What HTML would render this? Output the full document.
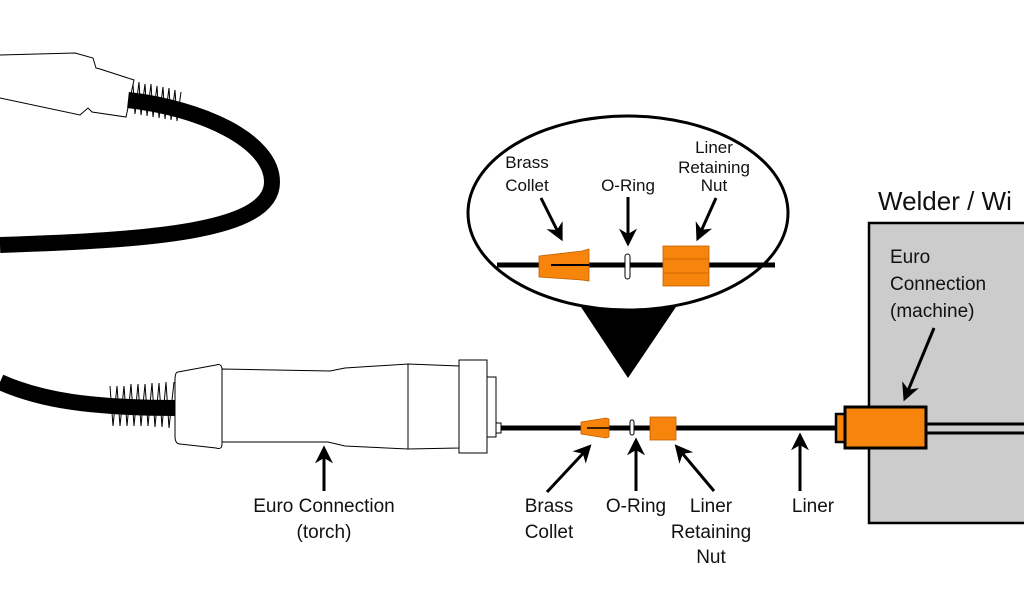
<!DOCTYPE html>
<html><head><style>html,body{margin:0;padding:0;background:#fff}svg{display:block}text{font-family:"Liberation Sans",sans-serif;fill:#111}</style></head><body>
<svg width="1024" height="600" viewBox="0 0 1024 600" xmlns="http://www.w3.org/2000/svg">
<defs>
<marker id="a" viewBox="0 0 10 10" refX="8" refY="5" markerWidth="6" markerHeight="6" orient="auto"><path d="M0,0 L10,5 L0,10 L3,5Z" fill="#000"/></marker></defs>
<!-- top handle -->
<path d="M0,55 L75,53 L93,58 L96,68 L100,69 L134,80 L126,117 L92,112 L88,108 L80,115 L0,98" fill="#fff" stroke="#000" stroke-width="1"/>
<path d="M128,100 C200,108 272,140 272,182 C272,232 150,240 0,245" fill="none" stroke="#000" stroke-width="16"/>
<path d="M133,84 L135,114 L139,82 L141,115 L145,84 L147,116 L151,84 L153,117 L157,86 L159,118 L163,87 L165,119 L169,88 L171,120 L175,90 L177,121 L181,92" fill="none" stroke="#000" stroke-width="1"/>
<!-- bottom cable -->
<path d="M0,382 C40,400 90,408 178,408" fill="none" stroke="#000" stroke-width="16"/>
<path d="M110,386 L113,426 L117,386 L120,426 L124,386 L127,426 L131,384 L134,426 L138,384 L141,426 L145,384 L148,426 L152,383 L155,427 L159,383 L162,427 L166,382 L169,428 L174,382" fill="none" stroke="#000" stroke-width="1"/>
<!-- torch body -->
<path d="M178,372 Q175,372 175,380 L175,436 Q175,444 180,444 L216,448 Q222,450 222,444 L222,370 Q222,363 216,365 Z" fill="#fff" stroke="#000" stroke-width="1"/>
<path d="M222,369 L330,371 L345,368 L408,364 L408,449 L345,446 L328,442 L222,442 Z" fill="#fff" stroke="#000" stroke-width="1"/>
<path d="M408,364 L459,366 L459,448 L408,449 Z" fill="#fff" stroke="#000" stroke-width="1"/>
<rect x="459" y="360" width="28" height="93" fill="#fff" stroke="#000" stroke-width="1"/>
<rect x="487" y="377" width="9" height="60" fill="#fff" stroke="#000" stroke-width="1"/>
<rect x="496" y="423" width="5" height="10" fill="#fff" stroke="#000" stroke-width="1"/>
<!-- gray box -->
<rect x="869" y="223" width="160" height="300" fill="#ccc" stroke="#000" stroke-width="2.5"/>
<text x="878" y="210" font-size="26">Welder / Wi</text>
<text x="890" y="263" font-size="19">Euro</text>
<text x="890" y="290" font-size="19">Connection</text>
<text x="890" y="317" font-size="19">(machine)</text>
<line x1="934" y1="328" x2="905" y2="398" stroke="#000" stroke-width="3" marker-end="url(#a)"/>
<!-- liner -->
<line x1="501" y1="428" x2="850" y2="428" stroke="#000" stroke-width="5"/>
<line x1="926" y1="424" x2="1024" y2="424" stroke="#000" stroke-width="3"/>
<line x1="926" y1="433" x2="1024" y2="433" stroke="#000" stroke-width="3"/>
<rect x="836" y="414" width="10" height="28" fill="#f7850b" stroke="#000" stroke-width="2.5"/>
<rect x="845" y="407" width="81" height="41" fill="#f7850b" stroke="#000" stroke-width="3"/>
<path d="M581,422 L606,418 L609,419 L609,437 L606,438 L581,434 Z" fill="#f7850b" stroke="#c06000" stroke-width="0.8"/>
<line x1="587" y1="428" x2="609" y2="428" stroke="#000" stroke-width="1.5"/>
<rect x="630" y="420" width="4" height="15" rx="2" fill="#fff" stroke="#000" stroke-width="1"/>
<rect x="650" y="417" width="26" height="23" fill="#f7850b" stroke="#c06000" stroke-width="0.8"/>
<!-- ellipse -->
<path d="M575,298 L682,298 L628,378 Z" fill="#000"/>
<ellipse cx="628" cy="213" rx="160" ry="97" fill="#fff" stroke="#000" stroke-width="3"/>
<line x1="497" y1="265" x2="775" y2="265" stroke="#000" stroke-width="5"/>
<path d="M539,256 L582,251 L589,249 L589,281 L582,280 L539,277 Z" fill="#f7850b" stroke="#c06000" stroke-width="0.8"/>
<line x1="551" y1="265" x2="589" y2="265" stroke="#000" stroke-width="2"/>
<rect x="625" y="254" width="5" height="25" rx="2.5" fill="#fff" stroke="#000" stroke-width="1"/>
<rect x="663" y="246" width="46" height="40" fill="#f7850b" stroke="#c06000" stroke-width="0.8"/>
<line x1="663" y1="259" x2="709" y2="259" stroke="#c06000" stroke-width="0.8"/>
<line x1="663" y1="273" x2="709" y2="273" stroke="#c06000" stroke-width="0.8"/>
<g font-size="17" text-anchor="middle">
<text x="527" y="168">Brass</text><text x="527" y="191">Collet</text>
<text x="628" y="191">O-Ring</text>
<text x="714" y="153">Liner</text><text x="714" y="173">Retaining</text><text x="714" y="191">Nut</text>
</g>
<line x1="541" y1="198" x2="561" y2="238" stroke="#000" stroke-width="3" marker-end="url(#a)"/>
<line x1="628" y1="197" x2="628" y2="243" stroke="#000" stroke-width="3" marker-end="url(#a)"/>
<line x1="716" y1="198" x2="698" y2="238" stroke="#000" stroke-width="3" marker-end="url(#a)"/>
<!-- bottom labels -->
<g font-size="19" text-anchor="middle">
<text x="324" y="512">Euro Connection</text><text x="324" y="538">(torch)</text>
<text x="549" y="512">Brass</text><text x="549" y="538">Collet</text>
<text x="636" y="512">O-Ring</text>
<text x="711" y="512">Liner</text><text x="711" y="538">Retaining</text><text x="711" y="563">Nut</text>
<text x="813" y="512">Liner</text>
</g>
<line x1="324" y1="491" x2="324" y2="449" stroke="#000" stroke-width="3" marker-end="url(#a)"/>
<line x1="547" y1="492" x2="589" y2="447" stroke="#000" stroke-width="3" marker-end="url(#a)"/>
<line x1="636" y1="491" x2="636" y2="441" stroke="#000" stroke-width="3" marker-end="url(#a)"/>
<line x1="714" y1="491" x2="677" y2="447" stroke="#000" stroke-width="3" marker-end="url(#a)"/>
<line x1="800" y1="491" x2="800" y2="436" stroke="#000" stroke-width="3" marker-end="url(#a)"/>
</svg>
</body></html>
